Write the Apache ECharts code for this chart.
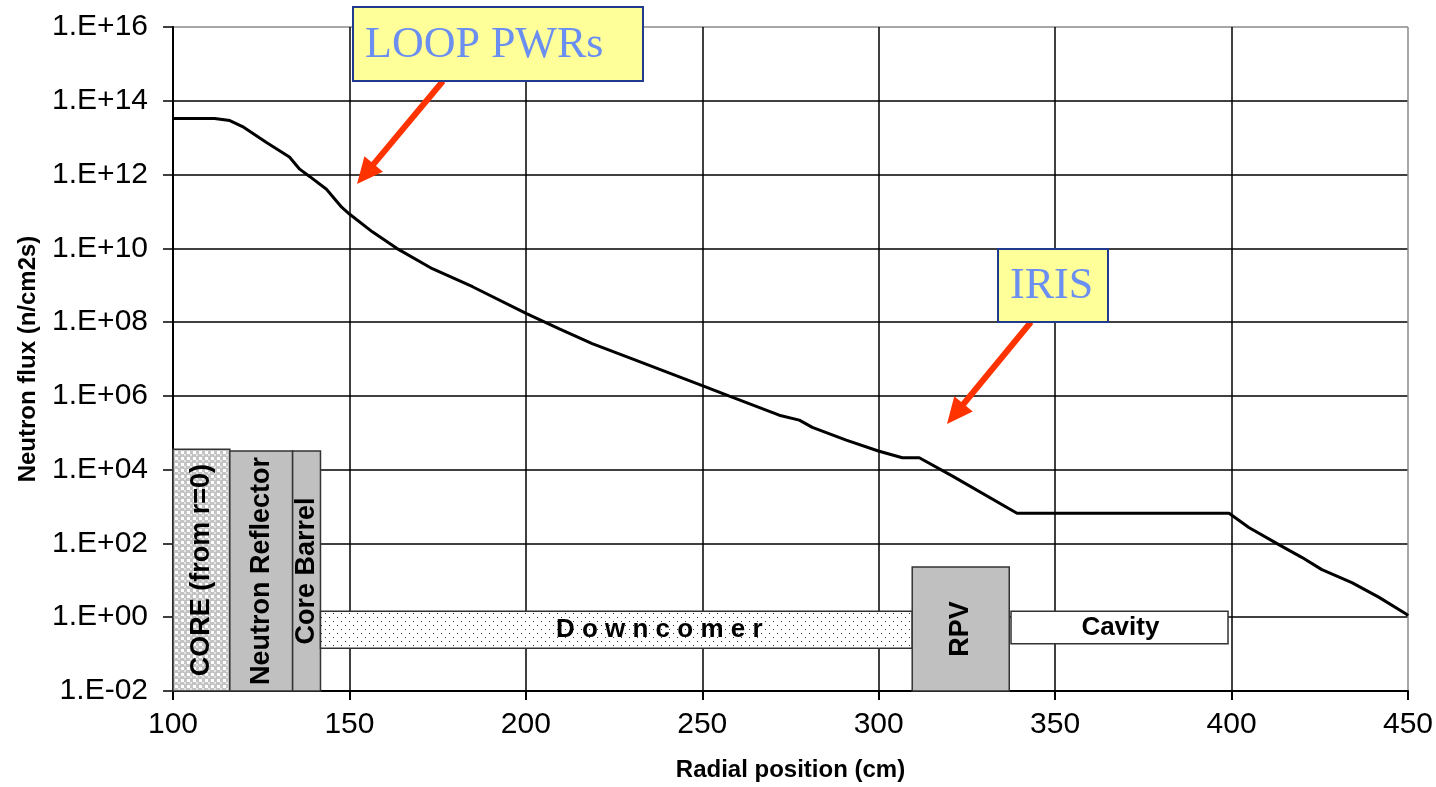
<!DOCTYPE html>
<html>
<head>
<meta charset="utf-8">
<script src="https://cdn.jsdelivr.net/npm/echarts@6/dist/echarts.min.js"></script>
<style>
html,body{margin:0;padding:0;background:#fff;}
#chart{width:1436px;height:787px;}
</style>
</head>
<body>
<div id="chart"></div>
<script>
// ---- data ----
const radius = [100, 111.8, 116.1, 119.7, 126.5, 133.0, 135.9, 138.7, 143.5, 147.8, 150.0, 156.5, 163.4, 173.5, 184.9, 200.2, 209.5, 218.8, 232.2, 250.0, 257.7, 271.8, 277.5, 281.2, 290.8, 299.9, 306.7, 311.5, 320.8, 339.2, 399.3, 404.9, 413.4, 419.9, 425.6, 434.1, 441.7, 449.6, 450];
const flux = [3.3e13, 3.3e13, 2.9e13, 2.0e13, 7.4e12, 3.0e12, 1.4e12, 8.9e11, 4.0e11, 1.3e11, 8.5e10, 2.8e10, 1.0e10, 2.8e9, 9.1e8, 1.7e8, 6.6e7, 2.6e7, 8.5e6, 1.9e6, 9.8e5, 3.0e5, 2.2e5, 1.4e5, 6.3e4, 3.2e4, 2.1e4, 2.1e4, 6.8e3, 6.6e2, 6.6e2, 2.7e2, 93, 42, 19.5, 8.7, 3.5, 1.2, 1.1];

const xTicks = [100, 150, 200, 250, 300, 350, 400, 450];
const yTickExponents = [-2, 0, 2, 4, 6, 8, 10, 12, 14, 16];
const yTickLabels = ['1.E-02', '1.E+00', '1.E+02', '1.E+04', '1.E+06', '1.E+08', '1.E+10', '1.E+12', '1.E+14', '1.E+16'];

// regions: name, r start, r end, flux top, flux bottom, label centre r
const regionNames = ['CORE (from r=0)', 'Neutron Reflector', 'Core Barrel', 'D o w n c o m e r', 'RPV', 'Cavity'];
const regionStart = [100, 116.1, 133.9, 141.8, 309.5, 337.5];
const regionEnd = [116.1, 133.9, 141.8, 309.5, 337.0, 399.0];
const regionTop = [3.6e4, 3.2e4, 3.2e4, 1.45, 23, 1.45];
const regionBottom = [0.01, 0.01, 0.01, 0.145, 0.01, 0.19];
const regionLabelAt = [108.05, 125.0, 137.85, 237.8, 323.25, 368.5];
const regionVertical = [true, true, true, false, true, false];
const regionFill = ['checker', 'gray', 'gray', 'dots', 'gray', 'white'];

// ---- patterns ----
function makeChecker() {
  const c = document.createElement('canvas'); c.width = 6; c.height = 6;
  const g = c.getContext('2d');
  g.fillStyle = '#c4c4c4'; g.fillRect(0, 0, 6, 6);
  g.fillStyle = '#ffffff'; g.fillRect(1, 1, 3, 3);
  g.fillStyle = '#e6e6e6'; g.fillRect(4, 4, 2, 2);
  return c;
}
function makeDots() {
  const c = document.createElement('canvas'); c.width = 8; c.height = 8;
  const g = c.getContext('2d');
  g.fillStyle = '#ffffff'; g.fillRect(0, 0, 8, 8);
  g.fillStyle = '#333333'; g.fillRect(1, 1, 1, 1); g.fillRect(5, 5, 1, 1);
  return c;
}
const fills = {
  checker: { type: 'pattern', image: makeChecker(), repeat: 'repeat' },
  dots: { type: 'pattern', image: makeDots(), repeat: 'repeat' },
  gray: '#c0c0c0',
  white: '#ffffff'
};

const lg = v => Math.log10(v);
const lineData = radius.map((r, i) => [r, lg(flux[i])]);
const regionData = regionNames.map((n, i) => [regionStart[i], regionEnd[i], lg(regionTop[i]), lg(regionBottom[i]), regionLabelAt[i], i]);

const labelFor = v => {
  const idx = yTickExponents.indexOf(Math.round(v));
  return idx >= 0 ? yTickLabels[idx] : '';
};

// arrows (annotation)
function arrow(x1, y1, x2, y2, color) {
  const dx = x2 - x1, dy = y2 - y1, L = Math.hypot(dx, dy);
  const ux = dx / L, uy = dy / L, px = -uy, py = ux;
  const hl = 26, hw = 12;
  const bx = x2 - ux * hl, by = y2 - uy * hl;
  return [
    { type: 'line', z: 10, shape: { x1: x1, y1: y1, x2: bx + ux * 2, y2: by + uy * 2 }, style: { stroke: color, lineWidth: 6 } },
    { type: 'polygon', z: 10, shape: { points: [[x2, y2], [bx + px * hw, by + py * hw], [bx - px * hw, by - py * hw]] }, style: { fill: color } }
  ];
}
function callout(x, y, w, h, text) {
  return [
    { type: 'rect', z: 11, shape: { x: x, y: y, width: w, height: h }, style: { fill: '#ffff99', stroke: '#1f3a8f', lineWidth: 2 } },
    { type: 'text', z: 12, x: x + 12, y: y + h / 2 + 1, style: { text: text, font: '44px "Liberation Serif", "DejaVu Serif", serif', fill: '#6b8ff0', verticalAlign: 'middle', align: 'left' } }
  ];
}

const chart = echarts.init(document.getElementById('chart'), null, { renderer: 'canvas' });
const FONT = '"Liberation Sans", Arial, sans-serif';

const yGridColors = yTickExponents.map((e, i) => i === yTickExponents.length - 1 ? '#8a8a8a' : '#000');
const xGridColors = xTicks.map((e, i) => i === xTicks.length - 1 ? '#8a8a8a' : '#000');

chart.setOption({
  animation: false,
  backgroundColor: '#ffffff',
  grid: { left: 173, right: 27, top: 27, bottom: 93, containLabel: false },
  xAxis: {
    type: 'value', min: 100, max: 450, interval: 50,
    name: 'Radial position (cm)', nameLocation: 'middle', nameGap: 67,
    nameTextStyle: { fontFamily: FONT, fontWeight: 'bold', fontSize: 24, color: '#000' },
    axisLine: { show: true, onZero: false, lineStyle: { color: '#000', width: 2 } },
    axisTick: { show: true, length: 9, lineStyle: { color: '#000', width: 2 } },
    axisLabel: { fontFamily: FONT, fontSize: 30, color: '#000', margin: 19 },
    splitLine: { show: true, lineStyle: { color: xGridColors, width: 1.5 } }
  },
  yAxis: {
    type: 'value', min: -2, max: 16, interval: 2,
    name: 'Neutron flux (n/cm2s)', nameLocation: 'middle', nameGap: 133,
    nameTextStyle: { fontFamily: FONT, fontWeight: 'bold', fontSize: 24, color: '#000' },
    axisLine: { show: true, onZero: false, lineStyle: { color: '#000', width: 2 } },
    axisTick: { show: true, length: 10, lineStyle: { color: '#000', width: 1.5 } },
    axisLabel: { fontFamily: FONT, fontSize: 30, color: '#000', margin: 25, formatter: labelFor },
    splitLine: { show: true, lineStyle: { color: yGridColors, width: 1.5 } }
  },
  series: [
    {
      type: 'custom',
      z: 3,
      clip: false,
      data: regionData,
      renderItem: function (params, api) {
        const i = api.value(5);
        const p0 = api.coord([api.value(0), api.value(2)]);
        const p1 = api.coord([api.value(1), api.value(3)]);
        const lc = api.coord([api.value(4), (api.value(2) + api.value(3)) / 2]);
        const vertical = regionVertical[i];
        return {
          type: 'group',
          children: [
            { type: 'rect', shape: { x: p0[0], y: p0[1], width: p1[0] - p0[0], height: p1[1] - p0[1] },
              style: { fill: fills[regionFill[i]], stroke: '#333', lineWidth: 1.5 } },
            { type: 'text', x: lc[0], y: lc[1], rotation: vertical ? Math.PI / 2 : 0,
              style: { text: regionNames[i], font: 'bold ' + (vertical ? 27 : 26) + 'px ' + FONT, fill: '#000', align: 'center', verticalAlign: 'middle' } }
          ]
        };
      }
    },
    {
      type: 'line',
      z: 4,
      data: lineData,
      showSymbol: false,
      symbol: 'none',
      lineStyle: { color: '#000', width: 3 }
    }
  ],
  graphic: [].concat(
    arrow(443, 81, 357, 184, '#ff3300'),
    arrow(1031, 322, 947, 424, '#ff3300'),
    callout(353, 7, 290, 74, 'LOOP PWRs'),
    callout(998, 249, 110, 73, 'IRIS')
  )
});
</script>
</body>
</html>
